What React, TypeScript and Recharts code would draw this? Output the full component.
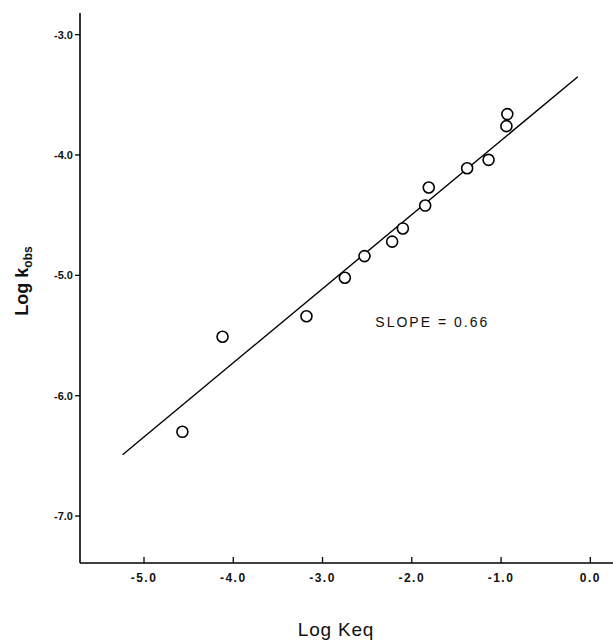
import React from 'react';
import { ScatterChart, Scatter, XAxis, YAxis, ReferenceDot } from 'recharts';

// Measured points: Log Keq (x) vs Log k_obs (y)
const logKeq = [-4.57, -4.12, -3.18, -2.75, -2.53, -2.22, -2.1, -1.85, -1.81, -1.38, -1.14, -0.94, -0.93];
const logKobs = [-6.3, -5.51, -5.34, -5.02, -4.84, -4.72, -4.61, -4.42, -4.27, -4.11, -4.04, -3.76, -3.66];

// Fitted line end points
const fitX = [-5.24, -0.14];
const fitY = [-6.49, -3.35];

const xTicks = [-5, -4, -3, -2, -1, 0];
const yTicks = [-3, -4, -5, -6, -7];

const xDomain: [number, number] = [-5.717, 0.254];
const yDomain: [number, number] = [-7.39, -2.82];

const points = logKeq.map((x, i) => ({ x, y: logKobs[i] }));
const fitLine = fitX.map((x, i) => ({ x, y: fitY[i] }));

const FONT = '"Liberation Sans", Arial, sans-serif';

const fmt = (v: number) => (v < 0 ? '-' + Math.abs(v).toFixed(1) : v.toFixed(1));

const XTick = (props: any) => {
  const { x, y, payload } = props;
  return (
    <g>
      <line x1={x} y1={y} x2={x} y2={y - 6} stroke="#000" strokeWidth={1.3} />
      <text
        x={x}
        y={y + 19}
        textAnchor="middle"
        fontFamily={FONT}
        fontSize={12}
        fontWeight="bold"
        letterSpacing={1.5}
        fill="#111"
      >
        {fmt(payload.value)}
      </text>
    </g>
  );
};

const YTick = (props: any) => {
  const { x, y, payload } = props;
  return (
    <g>
      <line x1={x - 5} y1={y} x2={x} y2={y} stroke="#000" strokeWidth={1.3} />
      <text x={x - 7} y={y + 4} textAnchor="end" fontFamily={FONT} fontSize={11} fontWeight="bold" fill="#111">
        {fmt(payload.value)}
      </text>
    </g>
  );
};

const Circle = (props: any) => (
  <circle cx={props.cx} cy={props.cy} r={5.5} fill="#fff" stroke="#000" strokeWidth={1.6} />
);

export default function App() {
  return (
    <div style={{ position: 'absolute', left: 0, top: 0, background: '#fff' }}>
      <ScatterChart width={613} height={642} margin={{ top: 13, right: 0, bottom: 0, left: 0 }}>
        <XAxis
          dataKey="x"
          type="number"
          domain={xDomain}
          ticks={xTicks}
          allowDataOverflow
          height={79}
          axisLine={{ stroke: '#000', strokeWidth: 1.6 }}
          tickLine={false}
          tickSize={0}
          tickMargin={0}
          tick={<XTick />}
          interval={0}
          label={{
            content: () => (
              <text
                x={336}
                y={636}
                textAnchor="middle"
                fontFamily={FONT}
                fontSize={19}
                letterSpacing={0.8}
                fill="#111"
              >
                Log Keq
              </text>
            ),
          }}
        />
        <XAxis
          xAxisId="top"
          orientation="top"
          type="number"
          domain={xDomain}
          allowDataOverflow
          height={0}
          axisLine={{ stroke: '#000', strokeWidth: 1.6 }}
          tick={false}
          tickLine={false}
        />
        <YAxis
          dataKey="y"
          type="number"
          domain={yDomain}
          ticks={yTicks}
          allowDataOverflow
          width={80}
          axisLine={{ stroke: '#000', strokeWidth: 1.6 }}
          tickLine={false}
          tickSize={0}
          tickMargin={0}
          tick={<YTick />}
          interval={0}
          label={{
            content: () => (
              <text
                x={28}
                y={281}
                transform="rotate(-90, 28, 281)"
                textAnchor="middle"
                fontFamily={FONT}
                fontSize={18}
                fontWeight="bold"
                fill="#111"
              >
                Log k
                <tspan fontSize={12} dy={4}>obs</tspan>
              </text>
            ),
          }}
        />
        <Scatter
          data={fitLine}
          line={{ stroke: '#000', strokeWidth: 1.4 }}
          shape={() => <g />}
          isAnimationActive={false}
        />
        <Scatter data={points} shape={<Circle />} isAnimationActive={false} />
        <ReferenceDot
          x={-1.77}
          y={-5.39}
          r={1}
          fill="none"
          stroke="none"
          label={{
            content: (p: any) => (
              <text
                x={p.viewBox.x + (p.viewBox.width || 0) / 2}
                y={p.viewBox.y + (p.viewBox.height || 0) / 2 + 5}
                textAnchor="middle"
                fontFamily={FONT}
                fontSize={14}
                letterSpacing={2}
                fill="#111"
              >
                SLOPE = 0.66
              </text>
            ),
          }}
        />
      </ScatterChart>
    </div>
  );
}
